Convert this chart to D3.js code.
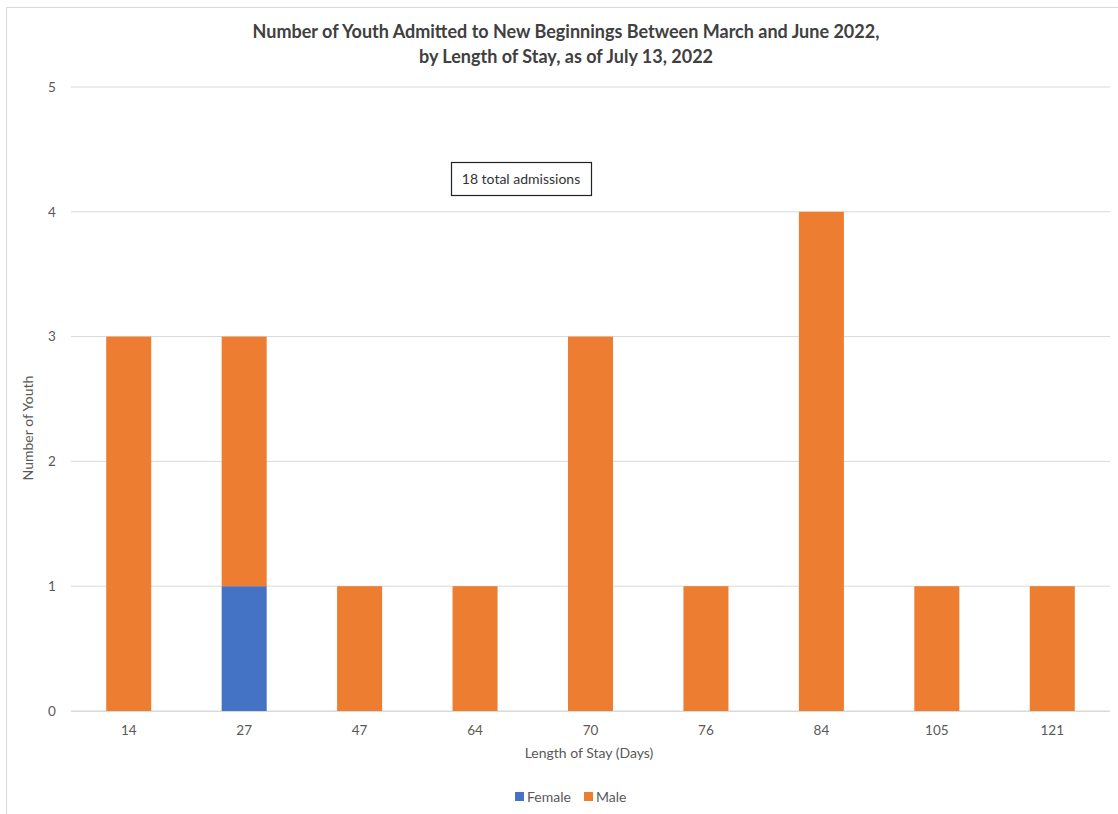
<!DOCTYPE html>
<html><head><meta charset="utf-8">
<script src="https://cdn.jsdelivr.net/npm/d3@7"></script>
<style>body{margin:0;background:#fff;} svg{display:block;font-family:Lato,"Open Sans",sans-serif;}</style>
</head><body>
<svg id="c" width="1118" height="814"></svg>
<script>
const categories = ["14","27","47","64","70","76","84","105","121"];
const female = [0,1,0,0,0,0,0,0,0];
const male = [3,2,1,1,3,1,4,1,1];
const seriesNames = ["Female","Male"];
const yTicks = [0,1,2,3,4,5];
const titleLines = ["Number of Youth Admitted to New Beginnings Between March and June 2022,","by Length of Stay, as of July 13, 2022"];
const annotation = "18 total admissions";

const colors = {Female:"#4472C4", Male:"#ED7D31"};
const svg = d3.select("#c");
svg.append("rect").attr("x",6.5).attr("y",7.5).attr("width",1120).attr("height",820)
  .attr("fill","none").attr("stroke","#d9d9d9");

const m = {l:71, r:1110, t:87, b:711};
const x = d3.scaleBand().domain(categories).range([m.l,m.r]).paddingInner(0.61).paddingOuter(0.305);
const y = d3.scaleLinear().domain([0,5]).range([m.b,m.t]);

// gridlines
svg.append("g").selectAll("line").data(yTicks).join("line")
  .attr("x1",m.l).attr("x2",m.r).attr("y1",d=>y(d)).attr("y2",d=>y(d))
  .attr("stroke","#d9d9d9").attr("stroke-width",1);

// y tick labels
svg.append("g").selectAll("text").data(yTicks).join("text")
  .attr("x",52).attr("y",d=>y(d)).attr("dy","0.35em").attr("text-anchor","middle")
  .attr("font-size",13.5).attr("fill","#595959").text(d=>d);

const rows = categories.map((c,i)=>({cat:c, Female:female[i], Male:male[i]}));
const stack = d3.stack().keys(seriesNames)(rows);
svg.append("g").selectAll("g").data(stack).join("g").attr("fill",d=>colors[d.key])
  .selectAll("rect").data(d=>d).join("rect")
  .attr("x",d=>x(d.data.cat)).attr("width",x.bandwidth())
  .attr("y",d=>y(d[1])).attr("height",d=>y(d[0])-y(d[1]));

// x axis line
svg.append("line").attr("x1",m.l).attr("x2",m.r).attr("y1",m.b+0.5).attr("y2",m.b+0.5).attr("stroke","#d9d9d9");

// x tick labels
svg.append("g").selectAll("text").data(categories).join("text")
  .attr("x",d=>x(d)+x.bandwidth()/2).attr("y",730).attr("dy","0.35em").attr("text-anchor","middle")
  .attr("font-size",13.5).attr("fill","#595959").text(d=>d);

// axis titles
svg.append("text").attr("x",589).attr("y",753).attr("dy","0.35em").attr("text-anchor","middle")
  .attr("font-size",14).attr("fill","#595959").text("Length of Stay (Days)");
svg.append("text").attr("transform","translate(28,428) rotate(-90)").attr("dy","0.35em").attr("text-anchor","middle")
  .attr("font-size",14).attr("fill","#595959").text("Number of Youth");

// title
svg.append("g").selectAll("text").data(titleLines).join("text")
  .attr("x",566).attr("y",(d,i)=>32+i*25).attr("dy","0.35em").attr("text-anchor","middle")
  .attr("font-size",18).attr("font-weight","bold").attr("fill","#404040").text(d=>d);

// annotation
svg.append("rect").attr("x",451.5).attr("y",162.5).attr("width",140).attr("height",33)
  .attr("fill","#fff").attr("stroke","#222").attr("stroke-width",1.2);
svg.append("text").attr("x",521).attr("y",179).attr("dy","0.35em").attr("text-anchor","middle")
  .attr("font-size",14).attr("fill","#333").text(annotation);

// legend
const lg = svg.append("g");
const legendX = [515,584];
seriesNames.forEach((s,i)=>{
  lg.append("rect").attr("x",legendX[i]).attr("y",792).attr("width",9).attr("height",9).attr("fill",colors[s]);
  lg.append("text").attr("x",legendX[i]+12).attr("y",797).attr("dy","0.35em").attr("font-size",14)
    .attr("fill","#595959").text(s);
});
</script>
</body></html>
